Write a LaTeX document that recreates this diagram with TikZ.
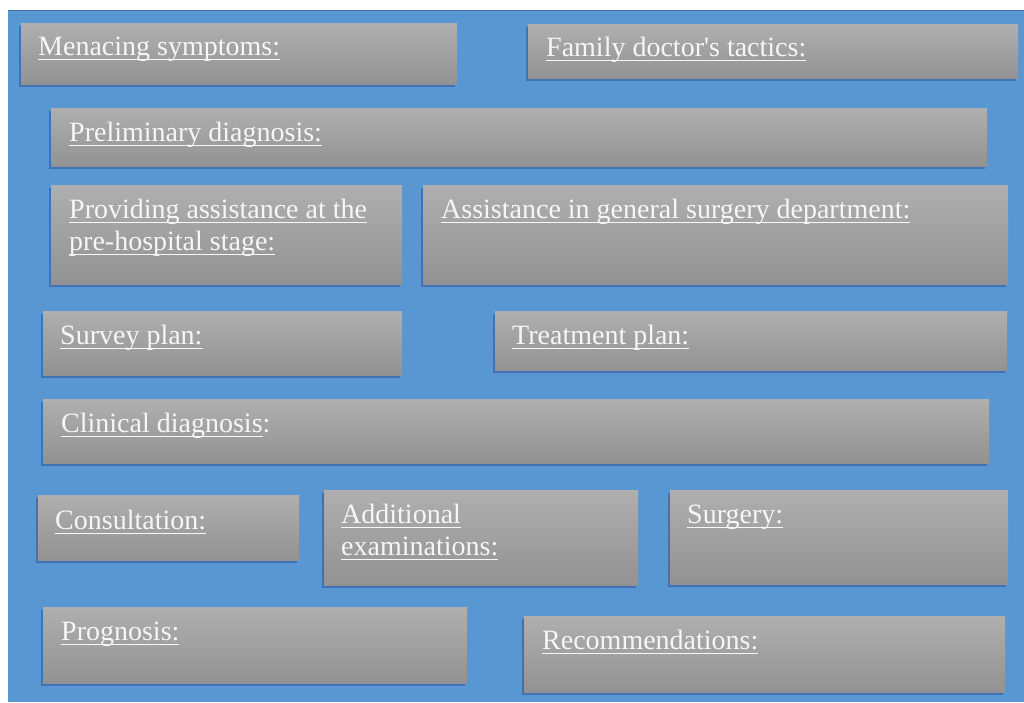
\documentclass[tikz,border=0pt]{standalone}
\usepackage{fontspec}
\setmainfont{Liberation Serif}
\usetikzlibrary{shadows}

\definecolor{bgblue}{RGB}{88,151,210}
\definecolor{bgedge}{RGB}{70,115,165}
\definecolor{boxtop}{RGB}{175,175,175}
\definecolor{boxbot}{RGB}{146,146,146}
\definecolor{txtcol}{RGB}{246,246,246}
\newcommand\ul[1]{\leavevmode\setbox0\hbox{#1}\rlap{\rule[-5pt]{\wd0}{1.4pt}}\box0}

\begin{document}
\begin{tikzpicture}[x=1pt,y=-1pt,
    box/.style={anchor=north west,inner sep=0pt,top color=boxtop,bottom color=boxbot,
        drop shadow={shadow xshift=-2pt,shadow yshift=-3pt,fill=black!60!blue,opacity=0.25}},
    txt/.style={anchor=base west,inner sep=0pt,align=left,text=txtcol,
        font=\fontsize{28}{32}\selectfont}]
    \useasboundingbox (0,0) rectangle (1024,702);
    \fill[bgblue] (8,10) rectangle (1024,702);
    \draw[bgedge,line width=1pt] (8,10) -- (1024,10);

    \node[box,minimum width=436pt,minimum height=61pt] (menace) at (21,23) {};
    \node[box,minimum width=490pt,minimum height=54pt] (tactics) at (528,24) {};
    \node[box,minimum width=936pt,minimum height=58pt] (prelim) at (51,108) {};
    \node[box,minimum width=351pt,minimum height=99pt] (prehosp) at (51,185) {};
    \node[box,minimum width=585pt,minimum height=99pt] (surgdep) at (423,185) {};
    \node[box,minimum width=359pt,minimum height=64pt] (survey) at (43,311) {};
    \node[box,minimum width=512pt,minimum height=59pt] (treat) at (495,311) {};
    \node[box,minimum width=946pt,minimum height=64pt] (clinic) at (43,399) {};
    \node[box,minimum width=261pt,minimum height=65pt] (consult) at (38,495) {};
    \node[box,minimum width=314pt,minimum height=95pt] (addexam) at (324,490) {};
    \node[box,minimum width=338pt,minimum height=94pt] (surgery) at (670,490) {};
    \node[box,minimum width=424pt,minimum height=76pt] (progn) at (43,607) {};
    \node[box,minimum width=481pt,minimum height=76pt] (recomm) at (524,616) {};

    % two-line labels: base is the last line
    \node[txt] (menace-t) at ([xshift=17pt,yshift=-32pt]menace.north west) {\ul{Menacing symptoms:}};
    \node[txt] (tactics-t) at ([xshift=18pt,yshift=-32pt]tactics.north west) {\ul{Family doctor\textquotesingle s tactics:}};
    \node[txt] (prelim-t) at ([xshift=18pt,yshift=-33pt]prelim.north west) {\ul{Preliminary diagnosis:}};
    \node[txt] (prehosp-t) at ([xshift=18pt,yshift=-65pt]prehosp.north west) {\ul{Providing assistance at the}\\\ul{pre-hospital stage:}};
    \node[txt] (surgdep-t) at ([xshift=18pt,yshift=-33pt]surgdep.north west) {\ul{Assistance in general surgery department:}};
    \node[txt] (survey-t) at ([xshift=17pt,yshift=-33pt]survey.north west) {\ul{Survey plan:}};
    \node[txt] (treat-t) at ([xshift=17pt,yshift=-33pt]treat.north west) {\ul{Treatment plan:}};
    \node[txt] (clinic-t) at ([xshift=18pt,yshift=-33pt]clinic.north west) {\ul{Clinical diagnosis}:};
    \node[txt] (consult-t) at ([xshift=17pt,yshift=-34pt]consult.north west) {\ul{Consultation:}};
    \node[txt] (addexam-t) at ([xshift=17pt,yshift=-65pt]addexam.north west) {\ul{Additional}\\\ul{examinations:}};
    \node[txt] (surgery-t) at ([xshift=17pt,yshift=-33pt]surgery.north west) {\ul{Surgery:}};
    \node[txt] (progn-t) at ([xshift=18pt,yshift=-33pt]progn.north west) {\ul{Prognosis:}};
    \node[txt] (recomm-t) at ([xshift=18pt,yshift=-33pt]recomm.north west) {\ul{Recommendations:}};
\end{tikzpicture}
\end{document}
